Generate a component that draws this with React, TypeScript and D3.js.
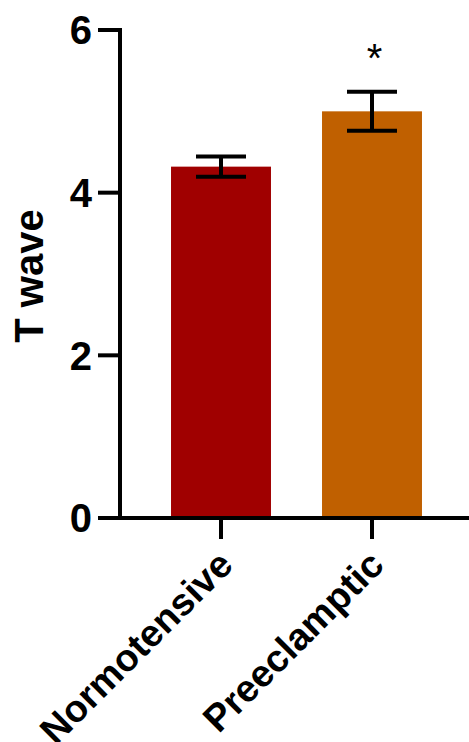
import React from "react";
import * as d3 from "d3";

const categories = ["Normotensive", "Preeclamptic"];
const means = [4.32, 5.0];
const errors = [0.125, 0.24];
const colors = ["#A00000", "#C06000"];
const yTicks = [0, 2, 4, 6];

const W = 469;
const H = 742;

const App: React.FC = () => {
  const y = d3.scaleLinear().domain([0, 6]).range([518, 30]);
  const x = d3
    .scaleBand<string>()
    .domain(categories)
    .range([145.5, 447.5])
    .paddingInner(0.338)
    .paddingOuter(0.169);

  const font = "Arial, 'Liberation Sans', sans-serif";

  return (
    <svg
      width={W}
      height={H}
      style={{ position: "absolute", left: 0, top: 0, background: "#fff" }}
      fontFamily={font}
    >
      {/* bars */}
      {categories.map((c, i) => (
        <rect
          key={c}
          x={x(c)}
          y={y(means[i])}
          width={x.bandwidth()}
          height={y(0) - y(means[i])}
          fill={colors[i]}
        />
      ))}

      {/* error bars */}
      {categories.map((c, i) => {
        const cx = (x(c) || 0) + x.bandwidth() / 2;
        const hi = y(means[i] + errors[i]);
        const lo = y(means[i] - errors[i]);
        return (
          <g key={c} stroke="#000" strokeWidth={4}>
            <line x1={cx} x2={cx} y1={hi} y2={lo} />
            <line x1={cx - 25} x2={cx + 25} y1={hi} y2={hi} />
            <line x1={cx - 25} x2={cx + 25} y1={lo} y2={lo} />
          </g>
        );
      })}

      {/* significance */}
      <text
        x={(x("Preeclamptic") || 0) + x.bandwidth() / 2 + 2.5}
        y={72}
        textAnchor="middle"
        fontSize={40}
      >
        *
      </text>

      {/* y axis */}
      <line x1={120} x2={120} y1={y(6) - 2} y2={y(0) + 2} stroke="#000" strokeWidth={4} />
      {yTicks.map((t) => (
        <g key={t}>
          <line x1={98} x2={120} y1={y(t)} y2={y(t)} stroke="#000" strokeWidth={4} />
          <text
            x={92}
            y={y(t)}
            dy="0.36em"
            textAnchor="end"
            fontSize={40}
            fontWeight="bold"
          >
            {t}
          </text>
        </g>
      ))}

      {/* x axis */}
      <line x1={118} x2={W} y1={y(0)} y2={y(0)} stroke="#000" strokeWidth={4} />
      {categories.map((c) => {
        const cx = (x(c) || 0) + x.bandwidth() / 2;
        return (
          <g key={c}>
            <line x1={cx} x2={cx} y1={y(0)} y2={y(0) + 21} stroke="#000" strokeWidth={4} />
            <text
              transform={`translate(${cx + 14},${y(0) + 49}) rotate(-45)`}
              textAnchor="end"
              fontSize={38}
              fontWeight="bold"
            >
              {c}
            </text>
          </g>
        );
      })}

      {/* y label */}
      <text
        transform={`translate(43,276) rotate(-90)`}
        textAnchor="middle"
        fontSize={40}
        fontWeight="bold"
      >
        T wave
      </text>
    </svg>
  );
};

export default App;
